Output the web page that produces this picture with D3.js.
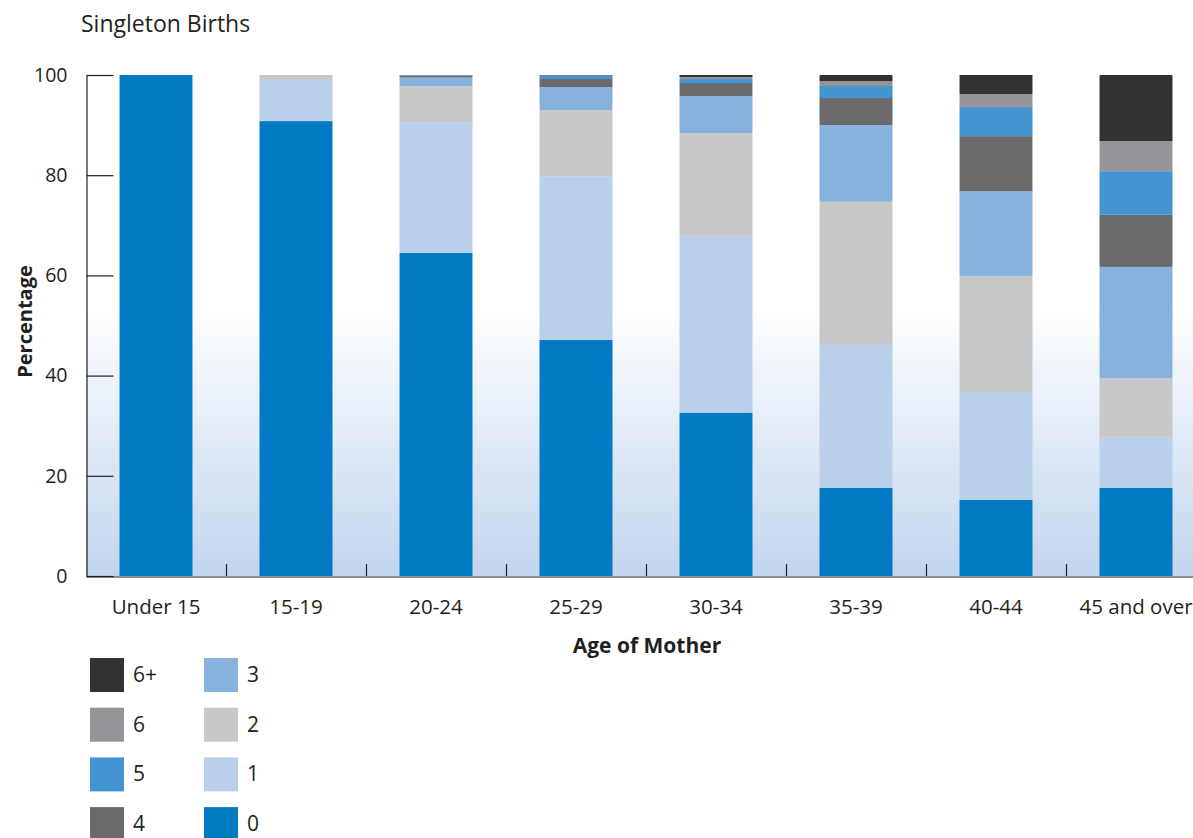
<!DOCTYPE html>
<html>
<head>
<meta charset="utf-8">
<script src="https://cdn.jsdelivr.net/npm/d3@7"></script>
<style>
  html, body { margin: 0; padding: 0; background: #fff; }
  svg { display: block; }
  text { font-family: "Open Sans", "Noto Sans", sans-serif; fill: #231f20; }
</style>
</head>
<body>
<svg id="chart" width="1193" height="838"></svg>
<script>
const categories = ["Under 15", "15-19", "20-24", "25-29", "30-34", "35-39", "40-44", "45 and over"];
const seriesKeys = ["0", "1", "2", "3", "4", "5", "6", "6+"];
const series0  = [100, 90.8, 64.5, 47.1, 32.6, 17.6, 15.2, 17.6];
const series1  = [0, 8.2, 26.1, 32.7, 35.3, 28.5, 21.5, 10.1];
const series2  = [0, 1.0, 7.2, 13.2, 20.5, 28.6, 23.2, 11.8];
const series3  = [0, 0, 1.7, 4.6, 7.4, 15.3, 16.9, 22.2];
const series4  = [0, 0, 0.4, 1.6, 2.6, 5.4, 11.0, 10.4];
const series5  = [0, 0, 0.1, 0.7, 0.8, 2.4, 5.8, 8.7];
const series6  = [0, 0, 0, 0, 0.4, 1.0, 2.6, 6.0];
const series6p = [0, 0, 0, 0.1, 0.4, 1.2, 3.8, 13.2];
const yTicks = [0, 20, 40, 60, 80, 100];
const colors = ["#007ac2", "#bad0ea", "#c7c8ca", "#87b2de", "#6a6a6c", "#4394d1", "#949599", "#333132"];

const allSeries = [series0, series1, series2, series3, series4, series5, series6, series6p];
const table = categories.map((c, i) => {
  const row = { cat: c };
  seriesKeys.forEach((k, j) => row[k] = allSeries[j][i]);
  return row;
});

const svg = d3.select("#chart");
const mLeft = 86, mRight = 1206, mTop = 75, mBottom = 576;

const x = d3.scaleBand().domain(categories).range([mLeft, mRight]).paddingInner(0.479).paddingOuter(0.2395);
const y = d3.scaleLinear().domain([0, 100]).range([mBottom, mTop]);

// background gradient
const defs = svg.append("defs");
const grad = defs.append("linearGradient").attr("id", "bg").attr("x1", 0).attr("y1", 0).attr("x2", 0).attr("y2", 1);
grad.append("stop").attr("offset", "0%").attr("stop-color", "#ffffff");
grad.append("stop").attr("offset", "46%").attr("stop-color", "#ffffff");
grad.append("stop").attr("offset", "100%").attr("stop-color", "#c2d5ed");
svg.append("rect").attr("x", mLeft).attr("y", mTop).attr("width", 1193 - mLeft).attr("height", mBottom - mTop).attr("fill", "url(#bg)");

// bars
const stack = d3.stack().keys(seriesKeys)(table);
svg.append("g").selectAll("g").data(stack).join("g")
  .attr("fill", (d, i) => colors[i])
  .selectAll("rect").data(d => d).join("rect")
  .attr("x", d => x(d.data.cat))
  .attr("width", x.bandwidth())
  .attr("y", d => y(d[1]))
  .attr("height", d => Math.max(0, y(d[0]) - y(d[1])));

// y axis
const yAxis = svg.append("g").attr("transform", `translate(${mLeft + 0.5},0)`)
  .call(d3.axisLeft(y).tickValues(yTicks).tickSize(-27).tickSizeOuter(0).tickPadding(19));
yAxis.select(".domain").attr("stroke", "#231f20").attr("stroke-width", 1.2);
yAxis.selectAll(".tick line").attr("stroke", "#231f20").attr("stroke-width", 1.2);
yAxis.selectAll(".tick text").style("font-size", "19.5px").attr("fill", "#231f20");

// x axis
const xAxis = svg.append("g").attr("transform", `translate(0,${mBottom + 0.5})`)
  .call(d3.axisBottom(x).tickSize(0).tickSizeOuter(0).tickPadding(23));
xAxis.select(".domain").attr("stroke", "#231f20").attr("stroke-width", 1.2);
xAxis.selectAll(".tick text").style("font-size", "20.5px").attr("fill", "#231f20");

// separator ticks between categories
const step = x.step();
svg.append("g").selectAll("line").data(categories.slice(0, -1)).join("line")
  .attr("x1", d => Math.round(x(d) + x.bandwidth() + step * x.paddingInner() / 2) + 0.5)
  .attr("x2", d => Math.round(x(d) + x.bandwidth() + step * x.paddingInner() / 2) + 0.5)
  .attr("y1", mBottom).attr("y2", mBottom - 12)
  .attr("stroke", "#231f20").attr("stroke-width", 1.2);

// titles
svg.append("text").attr("x", 81).attr("y", 32).style("font-size", "23px").text("Singleton Births");
svg.append("text").attr("transform", `translate(32,${(mTop + mBottom) / 2 - 4}) rotate(-90)`)
  .attr("text-anchor", "middle").style("font-size", "20px").style("font-weight", "bold").text("Percentage");
svg.append("text").attr("x", 647).attr("y", 653).attr("text-anchor", "middle")
  .style("font-size", "21px").style("font-weight", "bold").text("Age of Mother");

// legend
const legendOrder = ["6+", "6", "5", "4", "3", "2", "1", "0"];
const legend = svg.append("g");
legendOrder.forEach((k, i) => {
  const col = Math.floor(i / 4), row = i % 4;
  const lx = col === 0 ? 90 : 204;
  const ly = 658 + row * 49.7;
  legend.append("rect").attr("x", lx).attr("y", ly).attr("width", 34).attr("height", 34)
    .attr("fill", colors[seriesKeys.indexOf(k)]);
  legend.append("text").attr("x", lx + 43).attr("y", ly + 24).style("font-size", "21px").text(k);
});
</script>
</body>
</html>
